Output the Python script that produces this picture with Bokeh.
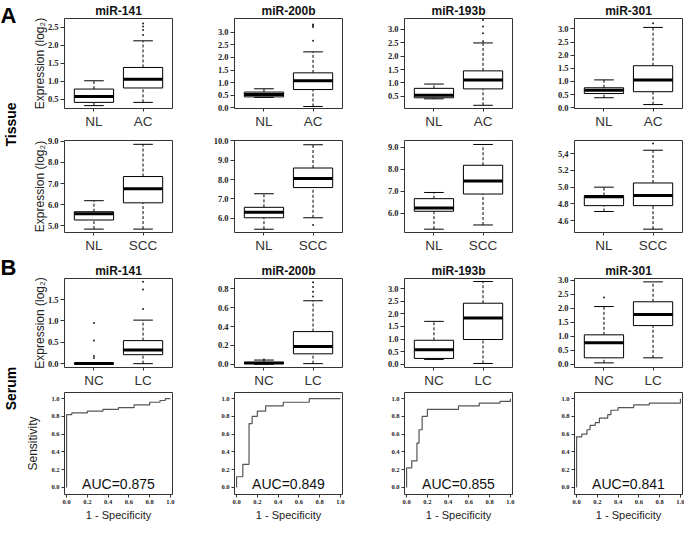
from math import pi
from bokeh.plotting import figure
from bokeh.layouts import row, column
from bokeh.models import (Range1d, FactorRange, Label, FixedTicker,
                          ColumnDataSource, PrintfTickFormatter)
from bokeh.transform import dodge
from bokeh.embed import file_html
from bokeh.resources import INLINE

genes = ["miR-141", "miR-200b", "miR-193b", "miR-301"]

# Box statistics per gene: [lower whisker, Q1, median, Q3, upper whisker]
# --- A, tissue: normal lung vs adenocarcinoma
ac_groups = ["NL", "AC"]
ac_nl = [[0.32, 0.41, 0.57, 0.78, 1.01],
         [0.42, 0.44, 0.53, 0.63, 0.76],
         [0.41, 0.45, 0.54, 0.80, 0.96],
         [0.38, 0.54, 0.67, 0.76, 1.06]]
ac_ac = [[0.41, 0.81, 1.05, 1.38, 2.12],
         [0.06, 0.73, 1.08, 1.39, 2.22],
         [0.17, 0.78, 1.11, 1.45, 2.49],
         [0.12, 0.61, 1.06, 1.60, 3.06]]
ac_out_nl = [[], [], [], []]
ac_out_ac = [[2.28, 2.42, 2.52, 2.60], [2.66, 3.20, 3.25, 3.30],
             [2.55, 2.85, 3.10, 3.34], [3.22]]
ac_ylim = [(0.24, 2.74), (-0.02, 3.54), (0.05, 3.40), (-0.03, 3.40)]
ac_ticks = [[0.5, 1.0, 1.5, 2.0, 2.5],
            [0.0, 0.5, 1.0, 1.5, 2.0, 2.5, 3.0],
            [0.5, 1.0, 1.5, 2.0, 2.5, 3.0],
            [0.0, 0.5, 1.0, 1.5, 2.0, 2.5, 3.0]]

# --- A, tissue: normal lung vs squamous cell carcinoma
scc_groups = ["NL", "SCC"]
scc_nl = [[4.85, 5.28, 5.57, 5.67, 6.19],
          [5.44, 6.03, 6.32, 6.57, 7.27],
          [5.29, 6.10, 6.25, 6.67, 6.95],
          [4.71, 4.78, 4.885, 4.90, 5.00]]
scc_scc = [[4.85, 6.09, 6.75, 7.33, 8.85],
           [6.03, 7.59, 8.06, 8.60, 9.80],
           [5.48, 6.88, 7.47, 8.18, 9.12],
           [4.50, 4.78, 4.90, 5.05, 5.44]]
scc_out_nl = [[], [], [], []]
scc_out_scc = [[], [5.66], [], [5.52]]
scc_ylim = [(4.69, 9.03), (5.27, 10.02), (5.14, 9.30), (4.46, 5.556)]
scc_ticks = [[5.0, 6.0, 7.0, 8.0, 9.0],
             [6.0, 7.0, 8.0, 9.0, 10.0],
             [6.0, 7.0, 8.0, 9.0],
             [4.6, 4.8, 5.0, 5.2, 5.4]]
scc_overrides = [{}, {}, {}, {5.4: "5,4"}]

# --- B, serum: normal controls vs lung cancer
se_groups = ["NC", "LC"]
se_nc = [[0.0, 0.0, 0.005, 0.01, 0.02],
         [0.0, 0.008, 0.014, 0.02, 0.045],
         [0.19, 0.23, 0.57, 0.95, 1.70],
         [0.05, 0.23, 0.77, 1.05, 2.06]]
se_lc = [[0.0, 0.21, 0.32, 0.54, 1.02],
         [0.007, 0.111, 0.19, 0.347, 0.674],
         [0.03, 0.98, 1.83, 2.42, 3.28],
         [0.23, 1.38, 1.78, 2.23, 2.94]]
se_out_nc = [[0.13, 0.18, 0.54, 0.95], [0.05], [], [2.38]]
se_out_lc = [[1.28, 1.74, 1.92], [0.72, 0.77, 0.82, 0.87], [], []]
se_ylim = [(-0.09, 1.995), (-0.034, 0.91), (-0.13, 3.40), (-0.115, 3.06)]
se_ticks = [[0.0, 0.5, 1.0, 1.5],
            [0.0, 0.2, 0.4, 0.6, 0.8],
            [0.0, 0.5, 1.0, 1.5, 2.0, 2.5, 3.0],
            [0.0, 0.5, 1.0, 1.5, 2.0, 2.5, 3.0]]

# --- B, ROC curves (1 - specificity, sensitivity)
roc_fpr = [[0, 0, 0.05, 0.2, 0.35, 0.5, 0.65, 0.8, 0.9, 0.95, 1.0],
           [0, 0, 0.06, 0.12, 0.15, 0.2, 0.28, 0.45, 0.7, 1.0],
           [0, 0, 0.05, 0.1, 0.12, 0.15, 0.2, 0.5, 0.7, 0.9, 1.0],
           [0, 0, 0.05, 0.1, 0.13, 0.18, 0.22, 0.3, 0.33, 0.4, 0.55, 0.7, 1.0]]
roc_tpr = [[0, 0.82, 0.84, 0.86, 0.88, 0.9, 0.93, 0.96, 0.98, 1.0, 1.0],
           [0, 0.12, 0.26, 0.72, 0.8, 0.86, 0.92, 0.96, 1.0, 1.0],
           [0, 0.22, 0.3, 0.5, 0.65, 0.8, 0.88, 0.92, 0.95, 0.97, 1.0],
           [0, 0.57, 0.6, 0.65, 0.7, 0.73, 0.78, 0.82, 0.87, 0.9, 0.93, 0.95, 1.0]]
roc_auc = ["0.875", "0.849", "0.855", "0.841"]
roc_ticks = [0.0, 0.2, 0.4, 0.6, 0.8, 1.0]

SANS = "Liberation Sans"
SERIF = "Liberation Serif"

# column geometry: (width, min_border_left, min_border_right)
COLS = [(162, 44, 10), (170, 52, 10), (170, 52, 10), (162, 52, 2)]


def style_common(p):
    p.grid.visible = False
    p.outline_line_color = "#333333"
    p.outline_line_width = 1
    p.axis.axis_line_color = None
    p.axis.minor_tick_line_color = None
    p.axis.major_tick_in = 0
    p.axis.major_tick_line_color = "#333333"
    p.yaxis.major_tick_out = 4
    p.yaxis.major_label_standoff = 2
    p.yaxis.major_label_text_font = SERIF
    p.yaxis.major_label_text_font_style = "bold"
    p.yaxis.major_label_text_color = "#222222"
    if p.title is not None:
        p.title.text_font = SANS
        p.title.text_font_style = "bold"
        p.title.text_font_size = "12px"
        p.title.align = "center"
        p.title.standoff = 2
        p.title.text_color = "#111111"


def box_panel(ci, title, groups, sa, sb, oa, ob, ylim, ticks, overrides,
              height, bt, bb, ylabel):
    w, bl, br = COLS[ci]
    p = figure(width=w, height=height, title=title,
               x_range=FactorRange(factors=groups, range_padding=0.1),
               y_range=Range1d(*ylim), output_backend="svg",
               toolbar_location=None, min_border_left=bl,
               min_border_right=br, min_border_top=bt, min_border_bottom=bb)
    style_common(p)
    src = ColumnDataSource(dict(
        g=groups, lo=[sa[0], sb[0]], q1=[sa[1], sb[1]], med=[sa[2], sb[2]],
        q3=[sa[3], sb[3]], hi=[sa[4], sb[4]]))
    p.segment(x0="g", x1="g", y0="lo", y1="q1", source=src,
              line_color="black", line_width=1, line_dash="3 2")
    p.segment(x0="g", x1="g", y0="q3", y1="hi", source=src,
              line_color="black", line_width=1, line_dash="3 2")
    p.vbar(x="g", width=0.8, bottom="q1", top="q3", source=src,
           fill_color="white", line_color="black", line_width=1)
    for fld in ("lo", "hi"):
        p.segment(x0=dodge("g", -0.2, range=p.x_range),
                  x1=dodge("g", 0.2, range=p.x_range),
                  y0=fld, y1=fld, source=src, line_color="black",
                  line_width=1)
    p.segment(x0=dodge("g", -0.4, range=p.x_range),
              x1=dodge("g", 0.4, range=p.x_range),
              y0="med", y1="med", source=src, line_color="black",
              line_width=3)
    og = [groups[0]] * len(oa) + [groups[1]] * len(ob)
    oy = list(oa) + list(ob)
    if oy:
        p.scatter(x=og, y=oy, marker="circle", size=2,
                  fill_color="#222222", line_color=None)
    p.yaxis.ticker = FixedTicker(ticks=ticks)
    p.yaxis.formatter = PrintfTickFormatter(format="%.1f")
    if overrides:
        p.yaxis.major_label_overrides = overrides
    p.yaxis.major_label_text_font_size = "8.5px"
    p.xaxis.major_tick_out = 3
    p.xaxis.major_label_standoff = 2
    p.xaxis.major_label_text_font = SANS
    p.xaxis.major_label_text_font_size = "13.5px"
    p.xaxis.major_label_text_color = "#333333"
    if ylabel:
        p.yaxis.axis_label = ylabel
        p.yaxis.axis_label_text_font = SANS
        p.yaxis.axis_label_text_font_style = "normal"
        p.yaxis.axis_label_text_font_size = "12px"
        p.yaxis.axis_label_standoff = -2
        p.yaxis.axis_label_text_color = "#222222"
    return p


def roc_panel(ci, fpr, tpr, auc, height, bt, bb, ylabel):
    w, bl, br = COLS[ci]
    p = figure(width=w, height=height, x_range=Range1d(-0.02, 1.02),
               y_range=Range1d(-0.08, 1.07), output_backend="svg",
               toolbar_location=None, min_border_left=bl,
               min_border_right=br, min_border_top=bt, min_border_bottom=bb)
    style_common(p)
    p.step(fpr, tpr, mode="after", line_color="#555555", line_width=1.2)
    p.add_layout(Label(x=0.5, y=-0.05, text="AUC=" + auc,
                       text_align="center", text_baseline="bottom",
                       text_font=SANS, text_font_size="14px",
                       text_color="#111111"))
    p.axis.ticker = FixedTicker(ticks=roc_ticks)
    p.axis.formatter = PrintfTickFormatter(format="%.1f")
    p.axis.major_tick_out = 3
    p.axis.major_label_standoff = 2
    p.axis.major_label_text_font = SERIF
    p.axis.major_label_text_font_style = "bold"
    p.axis.major_label_text_font_size = "6.5px"
    p.axis.major_label_text_color = "#222222"
    p.xaxis.axis_label = "1 - Specificity"
    p.xaxis.axis_label_text_font = SANS
    p.xaxis.axis_label_text_font_style = "normal"
    p.xaxis.axis_label_text_font_size = "11px"
    p.xaxis.axis_label_standoff = 2
    p.xaxis.axis_label_text_color = "#222222"
    if ylabel:
        p.yaxis.axis_label = ylabel
        p.yaxis.axis_label_text_font = SANS
        p.yaxis.axis_label_text_font_style = "normal"
        p.yaxis.axis_label_text_font_size = "12px"
        p.yaxis.axis_label_standoff = 8
        p.yaxis.axis_label_text_color = "#222222"
    return p


YL = "Expression (log\u2082)"
r1 = [box_panel(i, genes[i], ac_groups, ac_nl[i], ac_ac[i], ac_out_nl[i],
                ac_out_ac[i], ac_ylim[i], ac_ticks[i], {}, 136, 16, 28,
                YL if i == 0 else None) for i in range(4)]
r2 = [box_panel(i, None, scc_groups, scc_nl[i], scc_scc[i], scc_out_nl[i],
                scc_out_scc[i], scc_ylim[i], scc_ticks[i], scc_overrides[i],
                122, 4, 26, YL if i == 0 else None) for i in range(4)]
r3 = [box_panel(i, genes[i], se_groups, se_nc[i], se_lc[i], se_out_nc[i],
                se_out_lc[i], se_ylim[i], se_ticks[i], {}, 132, 20, 22,
                YL if i == 0 else None) for i in range(4)]
r4 = [roc_panel(i, roc_fpr[i], roc_tpr[i], roc_auc[i], 134, 2, 30,
                "Sensitivity" if i == 0 else None) for i in range(4)]

TOTAL_H = 136 + 122 + 132 + 134
lf = figure(width=20, height=TOTAL_H, x_range=Range1d(0, 20),
            y_range=Range1d(TOTAL_H, 0), output_backend="svg",
            toolbar_location=None, x_axis_location=None,
            y_axis_location=None, min_border=0)
lf.grid.visible = False
lf.outline_line_color = None
side_labels = [("A", 0, 2, 0, "22px", "left", "top"),
               ("Tissue", 10, 124, pi / 2, "14px", "center", "middle"),
               ("B", 0, 254, 0, "22px", "left", "top"),
               ("Serum", 10, 388, pi / 2, "14px", "center", "middle")]
for t, x, y, a, fs, al, bl_ in side_labels:
    lf.add_layout(Label(x=x, y=y, text=t, angle=a, text_font=SANS,
                        text_font_style="bold", text_font_size=fs,
                        text_align=al, text_baseline=bl_,
                        text_color="black"))

layout = row(lf, column(row(*r1), row(*r2), row(*r3), row(*r4)))

with open("out.html", "w") as f:
    f.write(file_html(layout, INLINE))
